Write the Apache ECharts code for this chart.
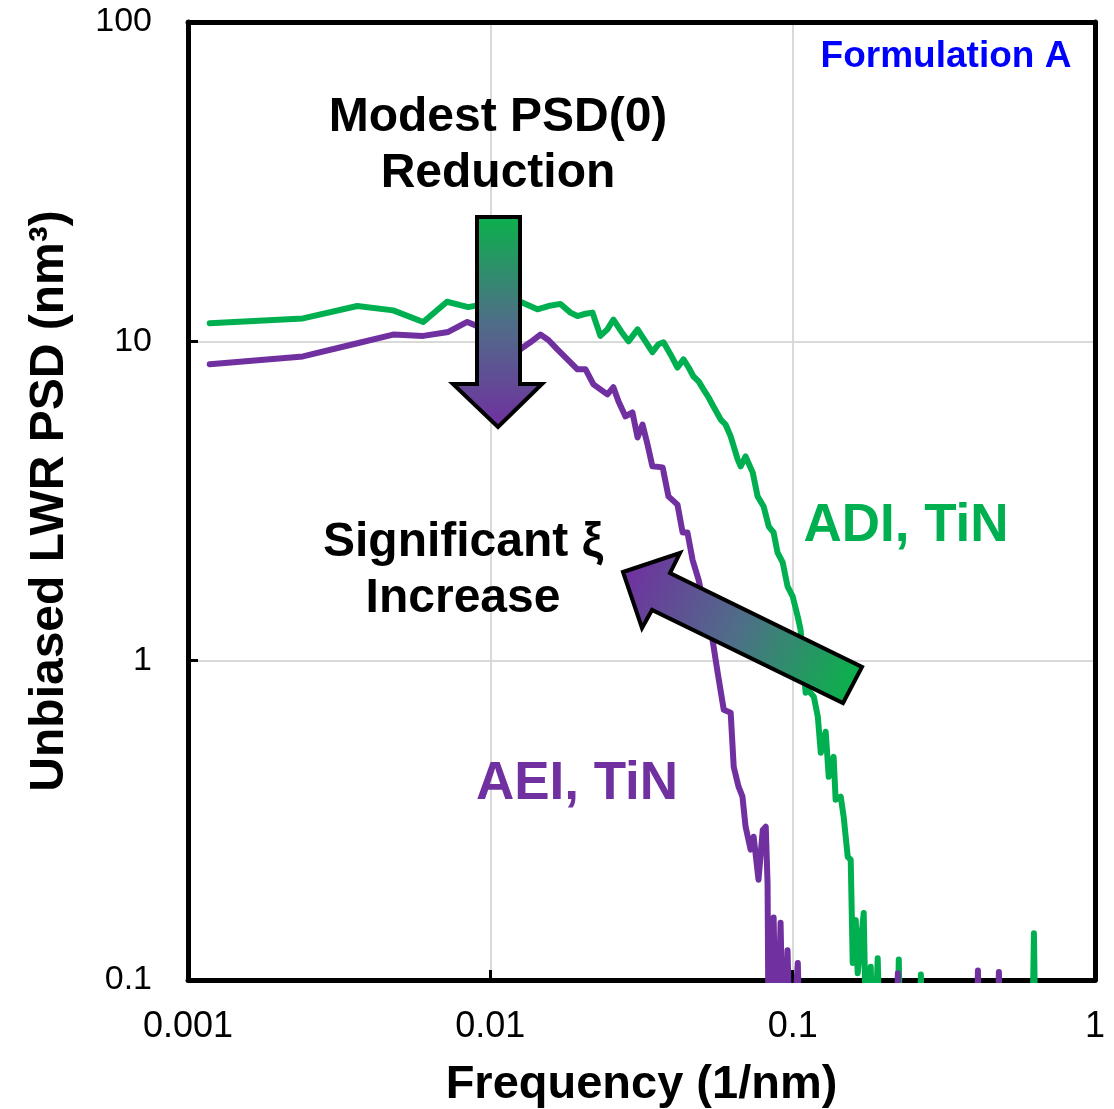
<!DOCTYPE html>
<html><head><meta charset="utf-8">
<script src="https://cdn.jsdelivr.net/npm/echarts@6/dist/echarts.min.js"></script>
<style>html,body{margin:0;padding:0;background:#fff}#c{width:1114px;height:1109px}</style>
</head><body><div id="c"></div>
<script>
// Tick labels
const xTickLabels = ['0.001', '0.01', '0.1', '1'];
const yTickLabels = ['0.1', '1', '10', '100'];

// ADI, TiN (green)  — 0.05 marks values that fall below the 0.1 axis floor
const adiFreq = [0.00118,0.0024,0.00363,0.00477,0.006,0.00719,0.00845,0.00962,0.0108,0.01257,
  0.01431,0.01556,0.01706,0.01841,0.01941,0.02065,0.02178,0.02312,0.02439,0.02553,
  0.02716,0.02864,0.03069,0.03258,0.03436,0.03597,0.03741,0.03945,0.04159,0.04355,
  0.04528,0.04699,0.04886,0.0507,0.05272,0.0547,0.05781,0.05998,0.06237,0.06577,
  0.0673,0.06986,0.07379,0.07656,0.08017,0.08337,0.0865,0.08913,0.09268,0.09616,
  0.1,0.104,0.1062,0.1104,0.1122,0.1175,0.1211,0.1239,0.1286,0.1316,
  0.1366,0.1387,0.1442,0.1475,0.1521,0.1556,0.158,0.1617,0.1641,0.1718,
  0.1758,0.1812,0.1854,0.1911,0.1955,0.2208,0.2244,0.2279,0.2614,0.2655,
  0.2694,0.618,0.628,0.638];
const adiPsd = [11.4,11.8,12.9,12.5,11.5,13.3,12.8,13.1,13.0,13.3,
  12.6,12.9,13.1,12.3,12.0,12.2,12.3,10.4,10.9,11.7,
  10.7,10.0,10.9,10.0,9.25,9.79,9.93,9.10,8.28,8.78,
  8.28,7.76,7.49,7.07,6.67,6.25,5.69,5.49,5.04,4.27,
  4.06,4.36,3.88,3.27,3.04,2.63,2.52,2.18,2.03,1.71,
  1.59,1.37,1.25,0.794,0.811,0.771,0.668,0.515,0.599,0.433,
  0.500,0.367,0.375,0.324,0.243,0.238,0.113,0.154,0.105,0.162,
  0.05,0.110,0.05,0.117,0.05,0.05,0.116,0.05,0.05,0.104,
  0.05,0.05,0.140,0.05];

// AEI, TiN (purple)
const aeiFreq = [0.00118,0.0024,0.00352,0.00477,0.006,0.00726,0.00839,0.00962,0.01096,0.01257,
  0.01356,0.01464,0.01556,0.01666,0.01799,0.01941,0.02065,0.02193,0.02312,0.02439,
  0.02553,0.02653,0.02799,0.02951,0.03069,0.03187,0.03311,0.03436,0.03715,0.03883,
  0.04159,0.04325,0.04487,0.04665,0.04886,0.05152,0.05433,0.05649,0.05916,0.06237,
  0.06383,0.06622,0.06823,0.06986,0.07261,0.0743,0.07709,0.07962,0.08147,0.0826,
  0.08337,0.0865,0.0885,0.0912,0.0934,0.09616,0.0985,0.104,0.1062,
  0.2193,0.2228,0.2262,0.4036,0.41,0.4165,0.4735,0.4809,0.4886];
const aeiPsd = [8.47,8.97,9.79,10.5,10.4,10.7,11.5,10.9,10.1,9.44,
  9.93,10.5,10.1,9.44,8.78,8.17,8.17,7.33,7.07,6.82,
  7.18,6.49,5.82,5.99,5.00,5.49,4.75,4.06,4.03,3.27,
  3.08,2.52,2.52,2.07,1.79,1.41,1.16,0.917,0.702,0.687,
  0.465,0.403,0.375,0.302,0.256,0.281,0.206,0.295,0.302,0.201,
  0.05,0.157,0.05,0.151,0.05,0.124,0.05,0.113,0.05,
  0.05,0.105,0.05,0.05,0.107,0.05,0.05,0.106,0.05];

const GREEN = '#00B050', PURPLE = '#7030A0';
const FONT = '"Liberation Sans", Arial, sans-serif';
const zip = (a, b) => a.map((v, i) => [v, b[i]]);

const frameAxis = {
  axisLine: {show: true, onZero: false, lineStyle: {color: '#000', width: 5}},
  axisTick: {show: false}, axisLabel: {show: false}, splitLine: {show: false}
};

const chart = echarts.init(document.getElementById('c'), null, {renderer: 'canvas'});
chart.setOption({
  animation: false,
  backgroundColor: '#fff',
  grid: {left: 188, right: 19, top: 22, bottom: 129, containLabel: false, outerBoundsMode: 'none'},
  xAxis: [{
    type: 'log', logBase: 10, min: 0.001, max: 1, position: 'bottom',
    name: 'Frequency (1/nm)', nameLocation: 'middle', nameGap: 82,
    nameTextStyle: {fontFamily: FONT, fontSize: 47, fontWeight: 'bold', color: '#000'},
    axisLine: {onZero: false, lineStyle: {color: '#000', width: 5}},
    axisTick: {inside: true, length: 10, lineStyle: {color: '#000', width: 3}},
    minorTick: {show: false},
    axisLabel: {fontFamily: FONT, fontSize: 36, color: '#000', margin: 29,
      formatter: v => xTickLabels[Math.round(Math.log10(v)) + 3]},
    splitLine: {show: true, lineStyle: {color: '#D9D9D9', width: 2}}
  }, Object.assign({type: 'log', logBase: 10, min: 0.001, max: 1, position: 'top'}, frameAxis)],
  yAxis: [{
    type: 'log', logBase: 10, min: 0.1, max: 100, position: 'left',
    name: 'Unbiased LWR PSD (nm³)', nameLocation: 'middle', nameGap: 114,
    nameTextStyle: {fontFamily: FONT, fontSize: 48, fontWeight: 'bold', color: '#000'},
    axisLine: {onZero: false, lineStyle: {color: '#000', width: 5}},
    axisTick: {inside: true, length: 10, lineStyle: {color: '#000', width: 3}},
    axisLabel: {fontFamily: FONT, fontSize: 34, color: '#000', margin: 36,
      formatter: v => yTickLabels[Math.round(Math.log10(v)) + 1]},
    splitLine: {show: true, lineStyle: {color: '#D9D9D9', width: 2}}
  }, Object.assign({type: 'log', logBase: 10, min: 0.1, max: 100, position: 'right'}, frameAxis)],
  series: [
    {name: 'ADI, TiN', type: 'line', data: zip(adiFreq, adiPsd), showSymbol: false, clip: true,
     lineStyle: {color: GREEN, width: 6, join: 'round', cap: 'round'}, itemStyle: {color: GREEN}, z: 3},
    {name: 'AEI, TiN', type: 'line', data: zip(aeiFreq, aeiPsd), showSymbol: false, clip: true,
     lineStyle: {color: PURPLE, width: 6, join: 'round', cap: 'round'}, itemStyle: {color: PURPLE}, z: 3}
  ],
  graphic: [
    {type: 'polygon', z: 100,
     shape: {points: [[477,217],[520,217],[520,384],[542,384],[498,427],[453,384],[477,384]]},
     style: {stroke: '#000', lineWidth: 4, lineJoin: 'miter',
       fill: {type: 'linear', x: 0, y: 217, x2: 0, y2: 427, global: true,
         colorStops: [{offset: 0, color: '#0CB04C'}, {offset: 0.5, color: '#4F6E88'}, {offset: 1, color: '#7030A0'}]}}},
    {type: 'polygon', z: 100,
     shape: {points: [[623,572],[680,553],[670,573],[862,667],[843,703],[652,610],[642,628]]},
     style: {stroke: '#000', lineWidth: 4, lineJoin: 'miter',
       fill: {type: 'linear', x: 623, y: 572, x2: 852, y2: 685, global: true,
         colorStops: [{offset: 0, color: '#7030A0'}, {offset: 0.5, color: '#4F6E88'}, {offset: 1, color: '#0CB04C'}]}}},
    {type: 'text', z: 101, x: 946, y: 57,
     style: {text: 'Formulation A', fill: '#0000FF', font: 'bold 37px ' + FONT, textAlign: 'center', textVerticalAlign: 'middle'}},
    {type: 'text', z: 101, x: 498, y: 146,
     style: {text: 'Modest PSD(0)\nReduction', fill: '#000', font: 'bold 48px ' + FONT, lineHeight: 56, textAlign: 'center', textVerticalAlign: 'middle'}},
    {type: 'text', z: 101, x: 463, y: 571,
     style: {text: 'Significant ξ\nIncrease', fill: '#000', font: 'bold 48px ' + FONT, lineHeight: 56, textAlign: 'center', textVerticalAlign: 'middle'}},
    {type: 'text', z: 101, x: 906, y: 526,
     style: {text: 'ADI, TiN', fill: GREEN, font: 'bold 53px ' + FONT, textAlign: 'center', textVerticalAlign: 'middle'}},
    {type: 'text', z: 101, x: 577, y: 784,
     style: {text: 'AEI, TiN', fill: PURPLE, font: 'bold 53px ' + FONT, textAlign: 'center', textVerticalAlign: 'middle'}}
  ]
});
</script></body></html>
